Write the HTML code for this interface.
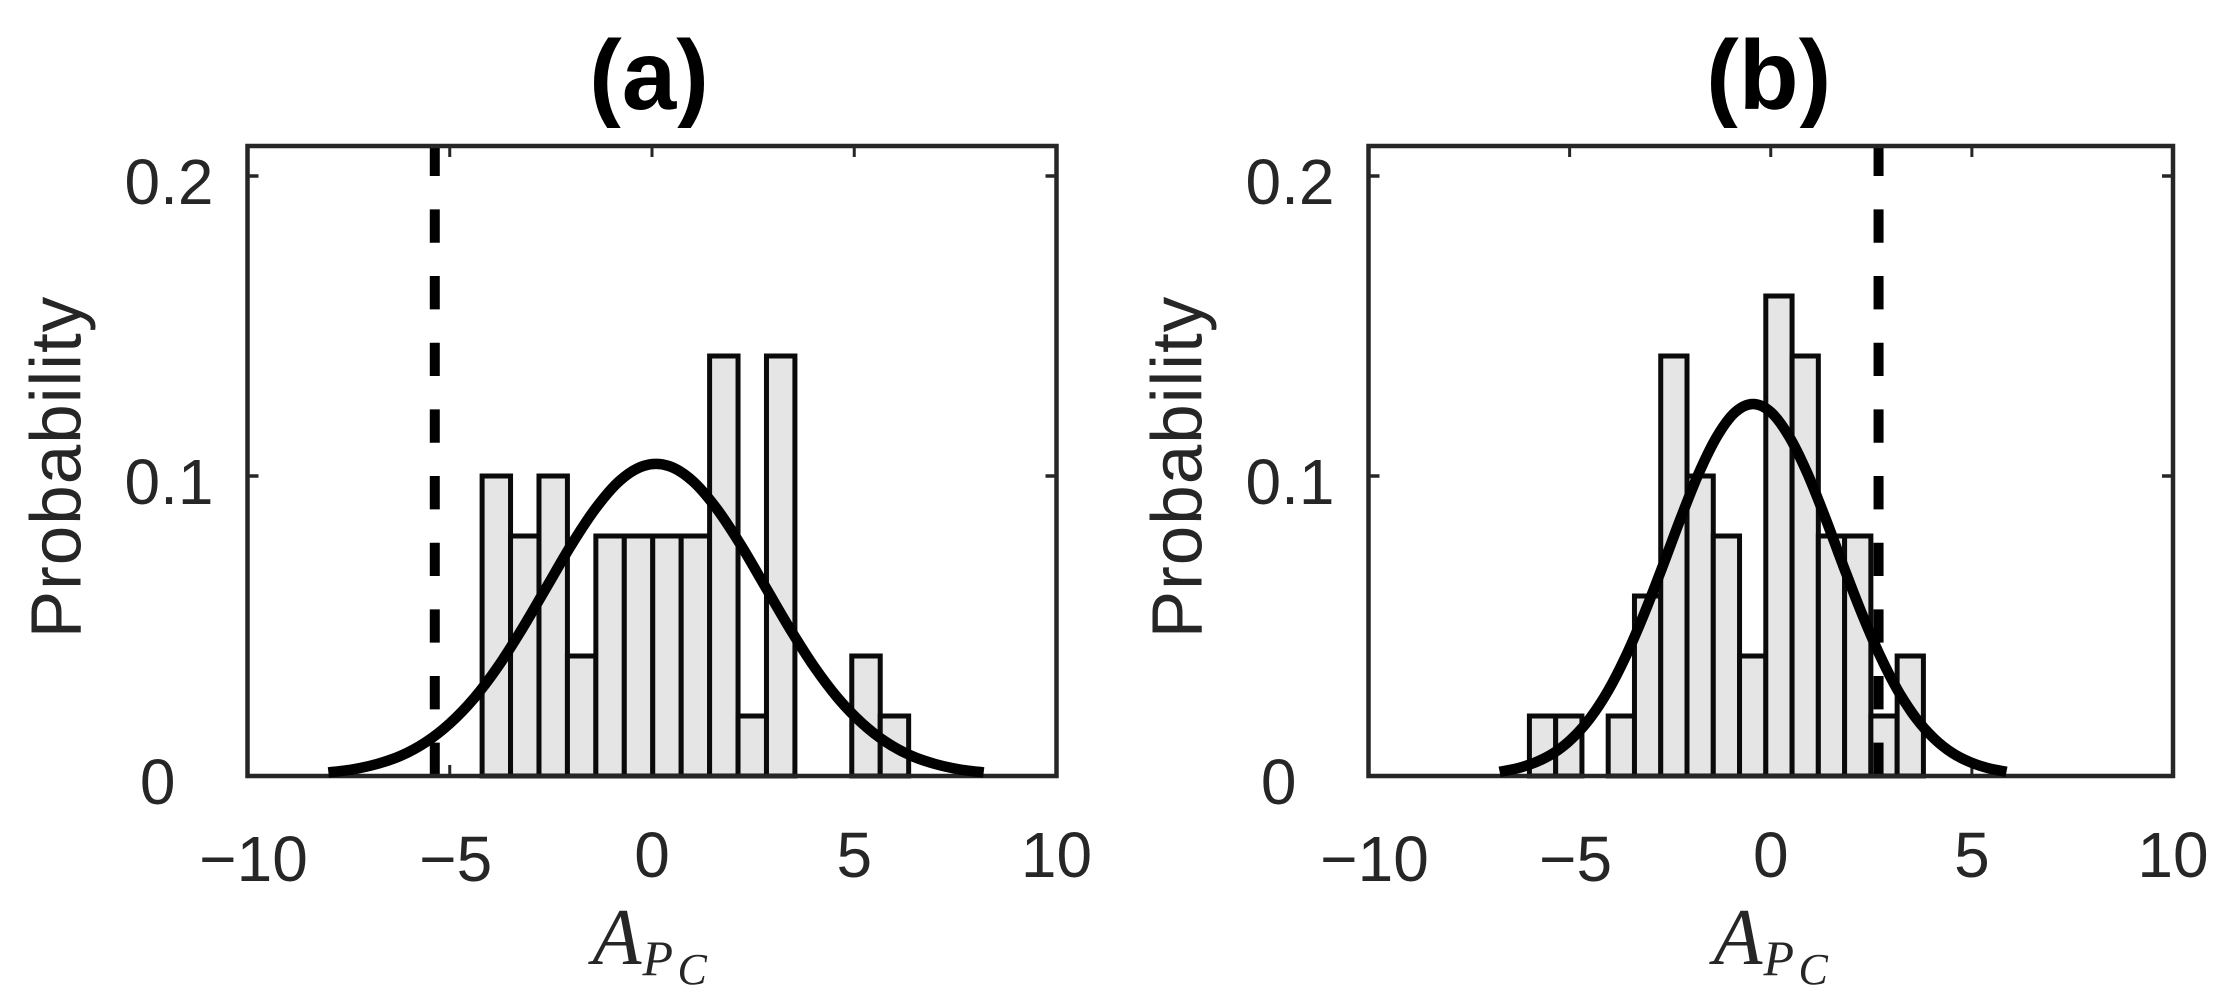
<!DOCTYPE html>
<html lang="en">
<head>
<meta charset="utf-8">
<title>Histograms of A_PC with fitted normal curves</title>
<style>
  html, body { margin: 0; padding: 0; background: #ffffff; }
  svg { display: block; }
  text { font-family: "Liberation Sans", sans-serif; fill: #262626; }
  .tick-label { font-size: 64px; }
  .y-title { font-size: 71px; letter-spacing: 1px; }
  .panel-title { font-size: 98px; font-weight: bold; fill: #000000; text-anchor: middle; }
  .math { font-family: "Liberation Serif", serif; font-style: italic; }
</style>
</head>
<body>
<svg id="chart" xmlns="http://www.w3.org/2000/svg" width="2214" height="1004" viewBox="0 0 2214 1004">
  <defs>
    <clipPath id="title-clip"><rect x="0" y="36" width="2214" height="92"/></clipPath>
  </defs>
  <rect x="0" y="0" width="2214" height="1004" fill="#ffffff"/>
  <g id="panel-a"></g>
  <g id="panel-b"></g>
</svg>
<script>
// Shared axis data
const xLimits = [-10, 10];
const yLimits = [0, 0.21];
const xTicks = [-10, -5, 0, 5, 10];
const xTickLabels = ['\u221210', '\u22125', '0', '5', '10'];
const yTicks = [0, 0.1, 0.2];
const yTickLabels = ['0', '0.1', '0.2'];

// Panel (a)
const binEdgesA = [-4.2, -3.497, -2.794, -2.091, -1.388, -0.685, 0.018, 0.721, 1.424, 2.127, 2.83, 3.533, 4.236, 4.939, 5.642, 6.345];
const probabilitiesA = [0.10, 0.08, 0.10, 0.04, 0.08, 0.08, 0.08, 0.08, 0.14, 0.02, 0.14, 0, 0, 0.04, 0.02];
const curveXA = [-8.0, -7.4, -6.8, -6.2, -5.6, -5.0, -4.4, -3.8, -3.2, -2.6, -2.0, -1.4, -0.8, -0.2, 0.4, 1.0, 1.6, 2.2, 2.8, 3.4, 4.0, 4.6, 5.2, 5.8, 6.4, 7.0, 7.6, 8.2];
const curveYA = [0.0012, 0.0022, 0.0040, 0.0068, 0.0112, 0.0175, 0.0259, 0.0366, 0.0493, 0.0631, 0.0769, 0.0891, 0.0984, 0.1034, 0.1034, 0.0984, 0.0891, 0.0769, 0.0631, 0.0493, 0.0366, 0.0259, 0.0175, 0.0112, 0.0068, 0.0040, 0.0022, 0.0012];
const thresholdA = [-5.37];

// Panel (b)
const binEdgesB = [-6, -5.347, -4.694, -4.041, -3.388, -2.735, -2.082, -1.429, -0.776, -0.123, 0.53, 1.183, 1.836, 2.489, 3.142, 3.795];
const probabilitiesB = [0.02, 0.02, 0, 0.02, 0.06, 0.14, 0.10, 0.08, 0.04, 0.16, 0.14, 0.08, 0.08, 0.02, 0.04];
const curveXB = [-6.74, -6.29, -5.84, -5.39, -4.94, -4.49, -4.04, -3.59, -3.14, -2.69, -2.24, -1.79, -1.34, -0.89, -0.44, 0.01, 0.46, 0.91, 1.36, 1.81, 2.26, 2.71, 3.16, 3.61, 4.06, 4.51, 4.96, 5.41, 5.86];
const curveYB = [0.0014, 0.0026, 0.0046, 0.0077, 0.0125, 0.0193, 0.0285, 0.0403, 0.0543, 0.0698, 0.0859, 0.1009, 0.1131, 0.1212, 0.1240, 0.1212, 0.1131, 0.1009, 0.0859, 0.0698, 0.0543, 0.0403, 0.0285, 0.0193, 0.0125, 0.0077, 0.0046, 0.0026, 0.0014];
const thresholdB = [2.68];

const SVG_NS = 'http://www.w3.org/2000/svg';

function make(tag, parent, attrs) {
  const el = document.createElementNS(SVG_NS, tag);
  for (const key in attrs) el.setAttribute(key, attrs[key]);
  parent.appendChild(el);
  return el;
}

function smoothPath(points) {
  let d = 'M' + points[0][0].toFixed(2) + ' ' + points[0][1].toFixed(2);
  for (let i = 0; i < points.length - 1; i++) {
    const p0 = points[Math.max(i - 1, 0)];
    const p1 = points[i];
    const p2 = points[i + 1];
    const p3 = points[Math.min(i + 2, points.length - 1)];
    const c1x = p1[0] + (p2[0] - p0[0]) / 6;
    const c1y = p1[1] + (p2[1] - p0[1]) / 6;
    const c2x = p2[0] - (p3[0] - p1[0]) / 6;
    const c2y = p2[1] - (p3[1] - p1[1]) / 6;
    d += 'C' + c1x.toFixed(2) + ' ' + c1y.toFixed(2) + ' ' + c2x.toFixed(2) + ' ' + c2y.toFixed(2) + ' ' + p2[0].toFixed(2) + ' ' + p2[1].toFixed(2);
  }
  return d;
}

function drawPanel(group, box, title, edges, probs, curveX, curveY, threshold, key) {
  const xScale = v => box.left + (v - xLimits[0]) / (xLimits[1] - xLimits[0]) * (box.right - box.left);
  const yScale = v => box.bottom - (v - yLimits[0]) / (yLimits[1] - yLimits[0]) * (box.bottom - box.top);

  // Ticks (inward, on all four sides)
  xTicks.forEach((t, i) => {
    const x = xScale(t);
    const tickTop = make('line', group, { x1: x, x2: x, y1: box.top, y2: box.top + 11, stroke: '#262626', 'stroke-width': 3 });
    
    
    const tickBottom = make('line', group, { x1: x, x2: x, y1: box.bottom, y2: box.bottom - 11, stroke: '#262626', 'stroke-width': 3 });
    
    
    const isNegative = t < 0;
    const label = make('text', group, { x: x + (isNegative ? 6 : 0), y: box.bottom + (isNegative ? 105 : 101), 'text-anchor': 'middle', class: 'tick-label' });
    label.textContent = xTickLabels[i];
    
    
  });
  yTicks.forEach((t, i) => {
    const y = yScale(t);
    const tickLeft = make('line', group, { x1: box.left, x2: box.left + 11, y1: y, y2: y, stroke: '#262626', 'stroke-width': 3.5 });
    
    
    const tickRight = make('line', group, { x1: box.right, x2: box.right - 11, y1: y, y2: y, stroke: '#262626', 'stroke-width': 3.5 });
    
    
    const label = make('text', group, { x: box.left - (t === 0 ? 72 : 34), y: y + 28, 'text-anchor': 'end', class: 'tick-label' });
    label.textContent = yTickLabels[i];
    
    
  });

  // Histogram bars
  probs.forEach((p, i) => {
    if (p <= 0) return;
    const x0 = xScale(edges[i]);
    const x1 = xScale(edges[i + 1]);
    const y = yScale(p);
    const bar = make('rect', group, { x: x0, y: y, width: x1 - x0, height: yScale(0) - y, fill: '#e5e5e5', stroke: '#0a0a0a', 'stroke-width': 5 });
    
    
  });

  // Dashed threshold line
  const tx = xScale(threshold[0]);
  const dash = make('line', group, { x1: tx, x2: tx, y1: yScale(yLimits[0]), y2: yScale(yLimits[1]), stroke: '#000000', 'stroke-width': 10, 'stroke-dasharray': '33.33 33.33' });
  
  

  // Axes frame
  const frame = make('rect', group, { x: box.left, y: box.top, width: box.right - box.left, height: box.bottom - box.top, fill: 'none', stroke: '#262626', 'stroke-width': 4.5 });
  
  

  // Fitted curve
  const pts = curveX.map((x, i) => [xScale(x), yScale(curveY[i])]);
  const curve = make('path', group, { d: smoothPath(pts), fill: 'none', stroke: '#000000', 'stroke-width': 10.5, 'stroke-linejoin': 'round' });
  
  

  // Title
  const titleEl = make('text', group, { x: (box.left + box.right) / 2 + box.titleShift, y: 109, class: 'panel-title', 'clip-path': 'url(#title-clip)' });
  titleEl.textContent = title;
  
  

  // Y axis title
  const yTitleX = box.left - 167;
  const yTitle = make('text', group, { x: yTitleX, y: 467, 'text-anchor': 'middle', class: 'y-title', transform: 'rotate(-90 ' + yTitleX + ' 467)' });
  yTitle.textContent = 'Probability';
  
  

  // X axis title: A with subscript P with sub-subscript C
  const xTitle = make('text', group, { class: 'math' });
  
  
  const base = box.left + 345;
  const a = make('tspan', xTitle, { x: base, y: 964, 'font-size': 80 });
  a.textContent = 'A';
  const sub = make('tspan', xTitle, { x: base + 50, y: 975, 'font-size': 50 });
  sub.textContent = 'P';
  const subsub = make('tspan', xTitle, { x: base + 85, y: 984, 'font-size': 44 });
  subsub.textContent = 'C';
}

drawPanel(document.getElementById('panel-a'),
  { left: 247.5, right: 1056.5, top: 146, bottom: 776, titleShift: -3 },
  '(a)', binEdgesA, probabilitiesA, curveXA, curveYA, thresholdA, 'a');
drawPanel(document.getElementById('panel-b'),
  { left: 1368.5, right: 2173, top: 146, bottom: 776, titleShift: -2 },
  '(b)', binEdgesB, probabilitiesB, curveXB, curveYB, thresholdB, 'b');
</script>
</body>
</html>
